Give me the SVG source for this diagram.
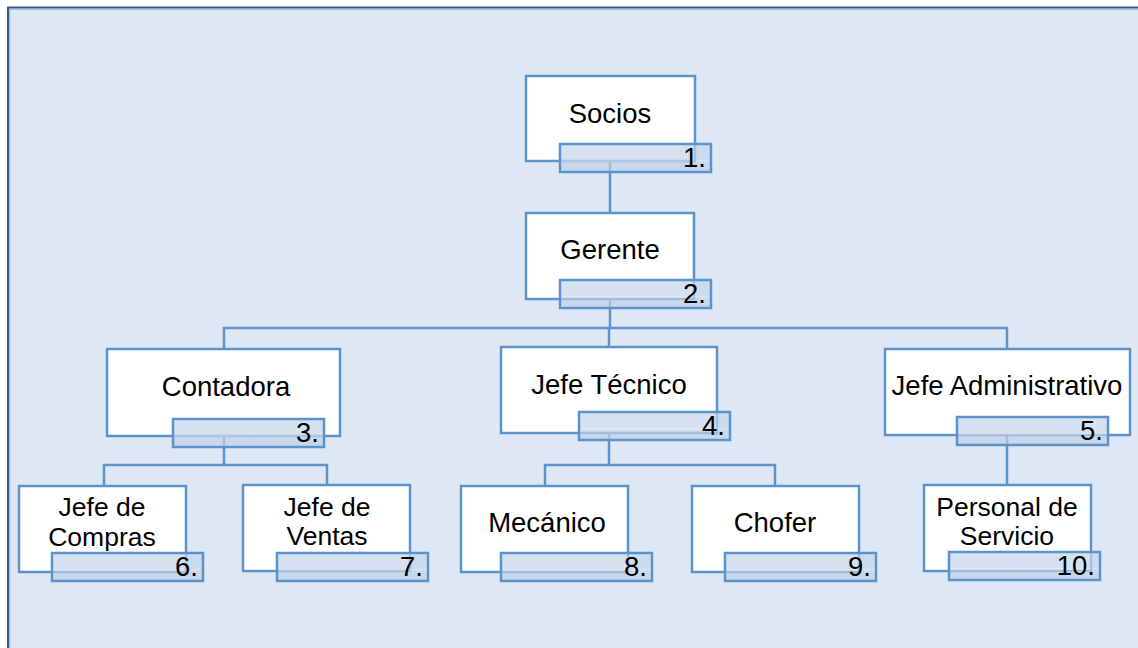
<svg xmlns="http://www.w3.org/2000/svg" width="1138" height="648" viewBox="0 0 1138 648">
<defs>
<linearGradient id="lg" x1="0" y1="0" x2="0" y2="1">
<stop offset="0" stop-color="#C4D5EA" stop-opacity="0.7"/>
<stop offset="0.55" stop-color="#C4D5EA" stop-opacity="0.7"/>
<stop offset="0.6" stop-color="#D6E2F0" stop-opacity="0.7"/>
<stop offset="0.66" stop-color="#BFD0E6" stop-opacity="0.7"/>
<stop offset="1" stop-color="#BFD0E6" stop-opacity="0.7"/>
</linearGradient>
</defs>
<style>
.box{fill:#FFFFFF;stroke:#5B93CC;stroke-width:2.5}
.lab{fill:url(#lg);stroke:#5B93CC;stroke-width:2.5}
.t{font-family:"Liberation Sans",Arial,sans-serif;font-size:27.5px;fill:#000;text-anchor:middle}
.t2{font-family:"Liberation Sans",Arial,sans-serif;font-size:26.5px;fill:#000;text-anchor:middle}
.n{font-family:"Liberation Sans",Arial,sans-serif;font-size:27.5px;fill:#000;text-anchor:end}
.c{fill:none;stroke:#5B93CC;stroke-width:2.5}
</style>
<rect x="0" y="0" width="1138" height="648" fill="#FFFFFF"/>
<rect x="8" y="7.5" width="1140" height="650" fill="#DEE8F4" stroke="#2F5B87" stroke-width="2"/>
<path d="M9.8 9.3 H1138 M9.8 9.3 V648" fill="none" stroke="#8FB2D8" stroke-width="1"/>
<g id="connectors">
<path class="c" d="M610 161 V213"/>
<path class="c" d="M610 299 V328"/>
<path class="c" d="M224 349 V328 H1007 V349 M609 328 V347"/>
<path class="c" d="M224 436 V465"/>
<path class="c" d="M104 485 V465 H327 V485"/>
<path class="c" d="M609 433 V465"/>
<path class="c" d="M545 486 V465 H775 V486"/>
<path class="c" d="M1007 435 V485"/>
</g>
<g id="socios">
<rect class="box" x="526" y="76" width="169" height="85"/>
<text class="t" x="610" y="123">Socios</text>
<rect class="lab" x="560" y="144" width="151" height="28"/>
<text class="n" x="706" y="167">1.</text>
</g>
<g id="gerente">
<rect class="box" x="526" y="213" width="168" height="86"/>
<text class="t" x="610" y="259">Gerente</text>
<rect class="lab" x="560" y="280" width="151" height="28"/>
<text class="n" x="706" y="303">2.</text>
</g>
<g id="contadora">
<rect class="box" x="107" y="349" width="233" height="87"/>
<text class="t" x="226" y="396">Contadora</text>
<rect class="lab" x="173" y="419" width="151" height="28"/>
<text class="n" x="319" y="442">3.</text>
</g>
<g id="jefe-tecnico">
<rect class="box" x="501" y="347" width="216" height="86"/>
<text class="t" x="609" y="394">Jefe Técnico</text>
<rect class="lab" x="579" y="412" width="151" height="28"/>
<text class="n" x="725" y="435">4.</text>
</g>
<g id="jefe-administrativo">
<rect class="box" x="885" y="349" width="245" height="86"/>
<text class="t" x="1007" y="395">Jefe Administrativo</text>
<rect class="lab" x="957" y="417" width="151" height="28"/>
<text class="n" x="1103" y="440">5.</text>
</g>
<g id="jefe-compras">
<rect class="box" x="19" y="486" width="167" height="86"/>
<text class="t2" x="102" y="516">Jefe de</text>
<text class="t2" x="102" y="546">Compras</text>
<rect class="lab" x="52" y="553" width="151" height="28"/>
<text class="n" x="198" y="576">6.</text>
</g>
<g id="jefe-ventas">
<rect class="box" x="243" y="485" width="167" height="86"/>
<text class="t2" x="327" y="516">Jefe de</text>
<text class="t2" x="327" y="545">Ventas</text>
<rect class="lab" x="277" y="553" width="151" height="28"/>
<text class="n" x="423" y="576">7.</text>
</g>
<g id="mecanico">
<rect class="box" x="461" y="486" width="167" height="86"/>
<text class="t" x="547" y="532">Mecánico</text>
<rect class="lab" x="501" y="553" width="151" height="28"/>
<text class="n" x="647" y="576">8.</text>
</g>
<g id="chofer">
<rect class="box" x="692" y="486" width="167" height="86"/>
<text class="t" x="775" y="532">Chofer</text>
<rect class="lab" x="725" y="553" width="151" height="28"/>
<text class="n" x="871" y="576">9.</text>
</g>
<g id="personal-servicio">
<rect class="box" x="924" y="485" width="167" height="86"/>
<text class="t2" x="1007" y="516">Personal de</text>
<text class="t2" x="1007" y="545">Servicio</text>
<rect class="lab" x="949" y="552" width="151" height="28"/>
<text class="n" x="1095" y="575">10.</text>
</g>
</svg>
